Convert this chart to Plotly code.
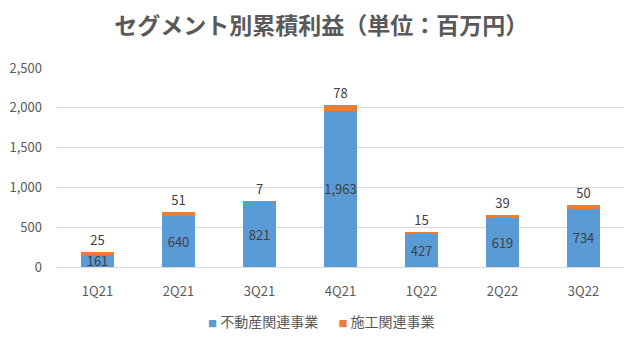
import plotly.graph_objects as go

quarters = ["1Q21", "2Q21", "3Q21", "4Q21", "1Q22", "2Q22", "3Q22"]
real_estate = [161, 640, 821, 1963, 427, 619, 734]
construction = [25, 51, 7, 78, 15, 39, 50]
y_ticks = [0, 500, 1000, 1500, 2000, 2500]

series_names = ["不動産関連事業", "施工関連事業"]
series_colors = ["#5B9BD5", "#ED7D31"]

FONT = "Noto Sans CJK JP"
GRAY = "#595959"
LABEL = "#404040"

fig = go.Figure()
fig.add_trace(go.Bar(
    x=quarters, y=real_estate, name=series_names[0],
    marker=dict(color=series_colors[0], line=dict(width=0)),
    texttemplate="%{y:,}", textposition="inside", insidetextanchor="middle",
    constraintext="none", textangle=0,
    textfont=dict(family=FONT, size=13, color=LABEL),
    showlegend=False,
))
fig.add_trace(go.Bar(
    x=quarters, y=construction, name=series_names[1],
    marker=dict(color=series_colors[1], line=dict(width=0)),
    texttemplate="%{y:,}", textposition="outside", constraintext="none",
    textangle=0,
    textfont=dict(family=FONT, size=13, color=LABEL),
    cliponaxis=False, showlegend=False,
))

# legend drawn as a single centred line of text with small coloured squares
gap = "\u3000\u00a0\u00a0"
legend_html = gap.join(
    f"<span style='color:{c};font-size:9px'>■</span>\u00a0{n}"
    for n, c in zip(series_names, series_colors)
)
fig.add_annotation(
    text=legend_html, xref="paper", yref="paper", x=0.467, y=-0.27,
    xanchor="center", yanchor="middle", showarrow=False,
    font=dict(family=FONT, size=14, color=GRAY),
)

fig.update_layout(
    barmode="stack",
    bargap=0.6,
    width=640, height=340,
    margin=dict(l=57, r=16, t=68, b=73, autoexpand=False),
    paper_bgcolor="white", plot_bgcolor="white",
    font=dict(family=FONT, color=GRAY),
    title=dict(
        text="<b>セグメント別累積利益（単位：百万円）</b>",
        x=0.502, xanchor="center", y=0.923, yanchor="middle",
        font=dict(family=FONT, size=23, color=GRAY),
    ),
    xaxis=dict(
        showgrid=False, showline=False, ticks="outside", ticklen=12,
        tickcolor="rgba(0,0,0,0)",
        tickfont=dict(family=FONT, size=13, color=GRAY),
    ),
    yaxis=dict(
        range=[0, 2500], tickvals=y_ticks, tickformat=",",
        showgrid=True, gridcolor="#D9D9D9", gridwidth=1,
        zeroline=True, zerolinecolor="#D9D9D9", zerolinewidth=1,
        ticklabelstandoff=14,
        tickfont=dict(family=FONT, size=13, color=GRAY),
    ),
)

fig.write_html("out.html")
